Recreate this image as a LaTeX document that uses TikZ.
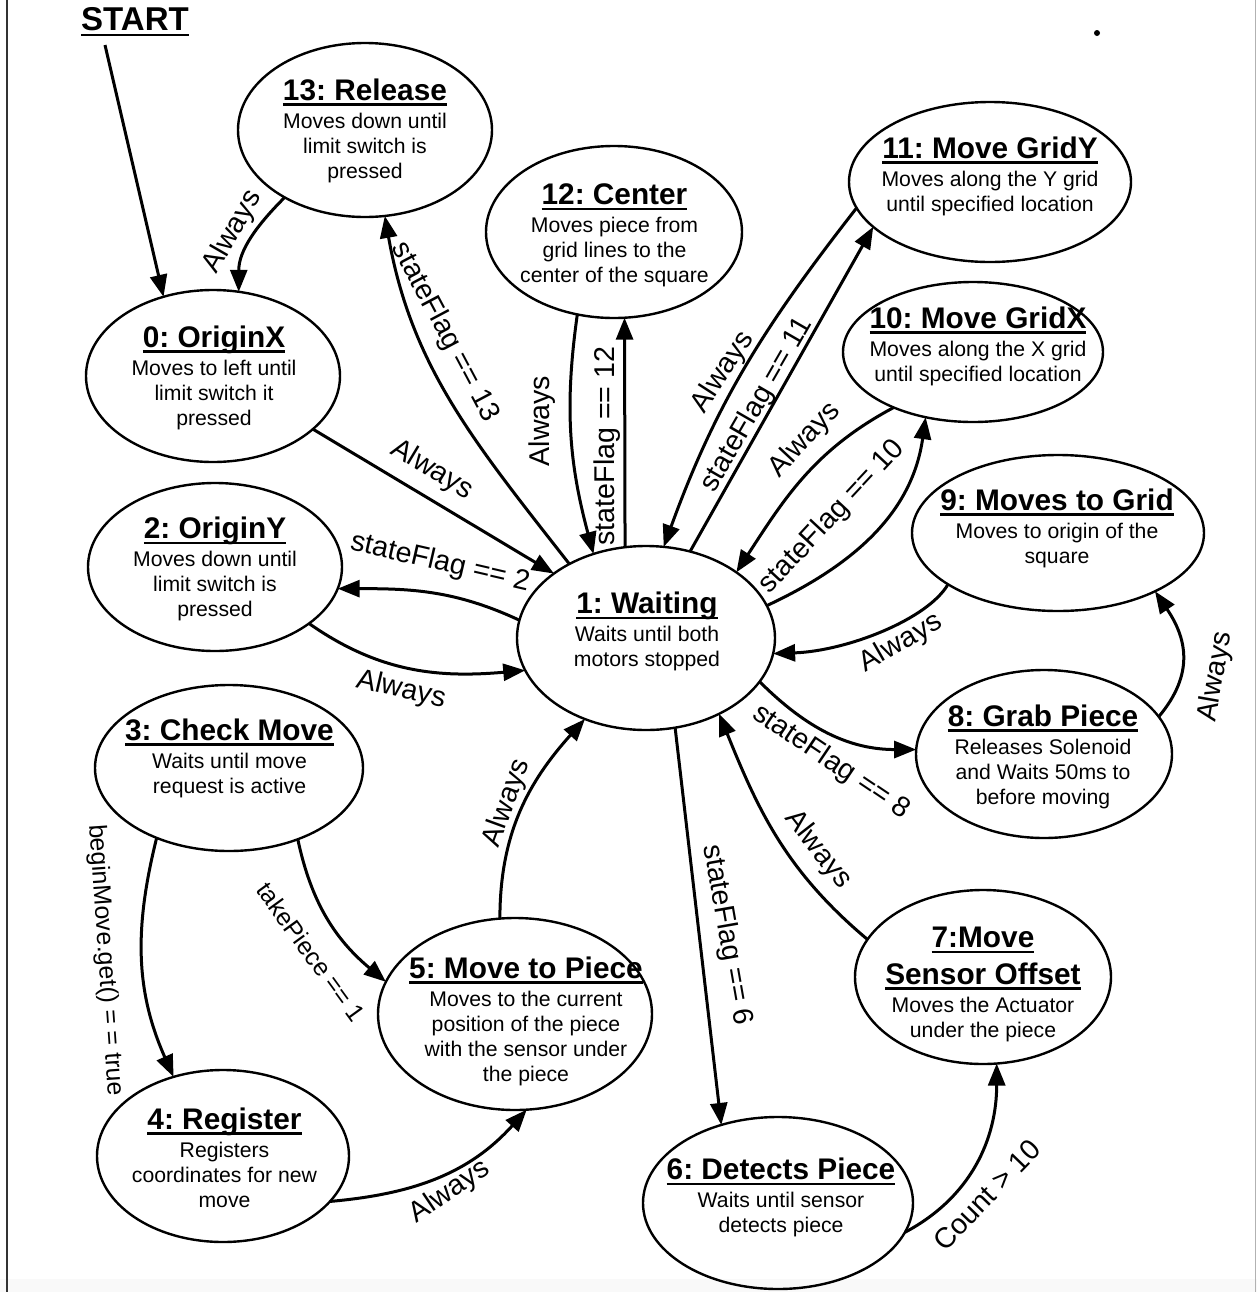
\documentclass[tikz,border=0pt]{standalone}
\usepackage{fontspec}
\setmainfont{Liberation Sans}
\frenchspacing
\usetikzlibrary{arrows.meta,shapes.geometric}
\newcommand\ulin[1]{\setbox0\hbox{#1}\rlap{\rule[-2.8pt]{\wd0}{1.3pt}}\box0}
\newcommand\ttl[1]{{\fontsize{14.9}{16}\selectfont\bfseries\ulin{#1}}}
\begin{document}
\begin{tikzpicture}[x=0.5pt,y=-0.5pt,
  st/.style={draw, ellipse, line width=1.2pt, inner sep=0pt, outer sep=0pt},
  txt/.style={align=center, font=\fontsize{10.6}{12.5}\selectfont, inner sep=0pt},
  lbl/.style={font=\fontsize{14.3}{16}\selectfont, inner sep=0pt},
  slbl/.style={font=\fontsize{12.4}{14}\selectfont, inner sep=0pt},
  tr/.style={line width=1.5pt, -{Triangle[length=11pt,width=8.5pt]}}]
\useasboundingbox (0,0) rectangle (1257,1292);
\fill[gray!5] (0,1279) rectangle (1257,1292);
\draw[line width=1pt, black!80] (7,0) -- (7,1292);
\draw[line width=0.6pt, gray!60] (1255.5,0) -- (1255.5,1292);
\fill (1097,33) circle (3);

% states
\node[st, minimum width=127pt, minimum height=87pt] (n13) at (365,130) {};
\node[st, minimum width=128pt, minimum height=86pt] (n12) at (614,232) {};
\node[st, minimum width=141pt, minimum height=80pt] (n11) at (990,182) {};
\node[st, minimum width=130pt, minimum height=70pt] (n10) at (973,352) {};
\node[st, minimum width=146pt, minimum height=78pt] (n9) at (1058,533) {};
\node[st, minimum width=128pt, minimum height=84pt] (n8) at (1044,754) {};
\node[st, minimum width=128pt, minimum height=87pt] (n7) at (983,977) {};
\node[st, minimum width=135pt, minimum height=86pt] (n6) at (778,1203) {};
\node[st, minimum width=137pt, minimum height=96pt] (n5) at (515,1014) {};
\node[st, minimum width=126pt, minimum height=86pt] (n4) at (223,1156) {};
\node[st, minimum width=134pt, minimum height=83pt] (n3) at (229,768) {};
\node[st, minimum width=127pt, minimum height=84pt] (n2) at (215,567) {};
\node[st, minimum width=127pt, minimum height=86pt] (n0) at (213,376) {};
\node[st, minimum width=129pt, minimum height=92pt] (n1) at (646,638) {};

% state texts
\node[txt] (t13) at (365,130.5) {\ttl{13: Release}\\[1.5pt]Moves down until\\limit switch is\\pressed};
\node[txt] (t12) at (614.5,235.5) {\ttl{12: Center}\\[1.5pt]Moves piece from\\grid lines to the\\center of the square};
\node[txt] (t11) at (990,176) {\ttl{11: Move GridY}\\[1.5pt]Moves along the Y grid\\until specified location};
\node[txt] (t10) at (978,346) {\ttl{10: Move GridX}\\[1.5pt]Moves along the X grid\\until specified location};
\node[txt] (t9) at (1057,528) {\ttl{9: Moves to Grid}\\[1.5pt]Moves to origin of the\\square};
\node[txt] (t8) at (1043,756.5) {\ttl{8: Grab Piece}\\[1.5pt]Releases Solenoid\\and Waits 50ms to\\before moving};
\node[txt] (t7) at (983,984.5) {\ttl{7:Move}\\[3.7pt]\ttl{Sensor Offset}\\[1.5pt]Moves the Actuator\\under the piece};
\node[txt] (t6) at (781,1197.5) {\ttl{6: Detects Piece}\\[1.5pt]Waits until sensor\\detects piece};
\node[txt] (t5) at (526,1021) {\ttl{5: Move to Piece}\\[1.5pt]Moves to the current\\position of the piece\\with the sensor under\\the piece};
\node[txt] (t4) at (224.5,1157.5) {\ttl{4: Register}\\[1.5pt]Registers\\coordinates for new\\move};
\node[txt] (t3) at (229.5,758) {\ttl{3: Check Move}\\[1.5pt]Waits until move\\request is active};
\node[txt] (t2) at (215,569) {\ttl{2: OriginY}\\[1.5pt]Moves down until\\limit switch is\\pressed};
\node[txt] (t0) at (214,377.5) {\ttl{0: OriginX}\\[1.5pt]Moves to left until\\limit switch it\\pressed};
\node[txt] (t1) at (647,631.5) {\ttl{1: Waiting}\\[1.5pt]Waits until both\\motors stopped};

% start
\node[font=\fontsize{16.5}{18}\selectfont\bfseries, inner sep=0pt] (start) at (135,22) {\ulin{START}};
\coordinate (s0) at (105,45);
\draw[tr] (s0) -- (n0.122);

% transitions
\draw[tr] (n13.220) to[out=225,in=90] (n0.73);
\node[lbl, rotate=60] (l1) at (233,232) {Always};

\draw[tr] (n1.136) to[out=128,in=-80] (n13.283);
\node[lbl, rotate=-62] (l2) at (445,332) {stateFlag == 13};

\draw[tr] (n0.-28) -- (n1.145);
\node[lbl, rotate=-31] (l3) at (432,470) {Always};

\draw[tr] (n1.172) to[out=155,in=0] (n2.-10);
\node[lbl, rotate=-13] (l4) at (440,563) {stateFlag == 2};

\draw[tr] (n2.-31) to[out=-35,in=185] (n1.195);
\node[lbl, rotate=-13] (l5) at (401,690) {Always};

\draw[tr] (n12.246) to[out=262,in=105] (n1.122);
\node[lbl, rotate=90] (l6) at (542,421) {Always};

\draw[tr] (n1.103) -- (n12.-83);
\node[lbl, rotate=90] (l7) at (607,446) {stateFlag == 12};

\draw[tr] (n11.191) to[out=232,in=70] (n1.79);
\node[lbl, rotate=57] (l8) at (723,372) {Always};

\draw[tr] (n1.63) -- (n11.201);
\node[lbl, rotate=60] (l9) at (757,405) {stateFlag == 11};

\draw[tr] (n10.215) to[out=208,in=57] (n1.36);
\node[lbl, rotate=47] (l10) at (805,440) {Always};

\draw[tr] (n1.15) to[out=25,in=-98] (n10.234);
\node[lbl, rotate=47] (l11) at (832,517) {stateFlag == 10};

\draw[tr] (n9.205) to[out=240,in=2,out looseness=0.55] (n1.-7);
\node[lbl, rotate=30] (l12) at (901,643) {Always};

\draw[tr] (n1.-21) to[out=-45,in=180] (n8.178);
\node[lbl, rotate=-34] (l13) at (831,762) {stateFlag == 8};

\draw[tr] (n7.162) to[out=140,in=-68] (n1.-46);
\node[lbl, rotate=-52] (l14) at (818,850) {Always};

\draw[tr] (n1.-72) -- (n6.126);
\node[lbl, rotate=-80] (l15) at (727,935) {stateFlag == 6};

\draw[tr] (n6.-13) to[out=28,in=-90] (n7.-81);
\node[lbl, rotate=46] (l16) at (987,1195) {Count > 10};

\draw[tr] (n8.18) to[out=50,in=-56,looseness=1.15] (n9.-31);
\node[lbl, rotate=80] (l17) at (1216,677) {Always};

\draw[tr] (n3.224) to[out=256,in=114] (n4.122);
\node[slbl, rotate=-86] (l18) at (105,960) {beginMove.get() = = true};

\draw[tr] (n3.-46) to[out=-78,in=140] (n5.166);
\node[slbl, rotate=-54] (l19) at (311,952) {takePiece == 1};

\draw[tr] (n5.99) to[out=90,in=228] (n1.233);
\node[lbl, rotate=70] (l20) at (507,803) {Always};

\draw[tr] (n4.-23) to[out=5,in=228] (n5.-83);
\node[lbl, rotate=34] (l21) at (450,1192) {Always};
\end{tikzpicture}
\end{document}
